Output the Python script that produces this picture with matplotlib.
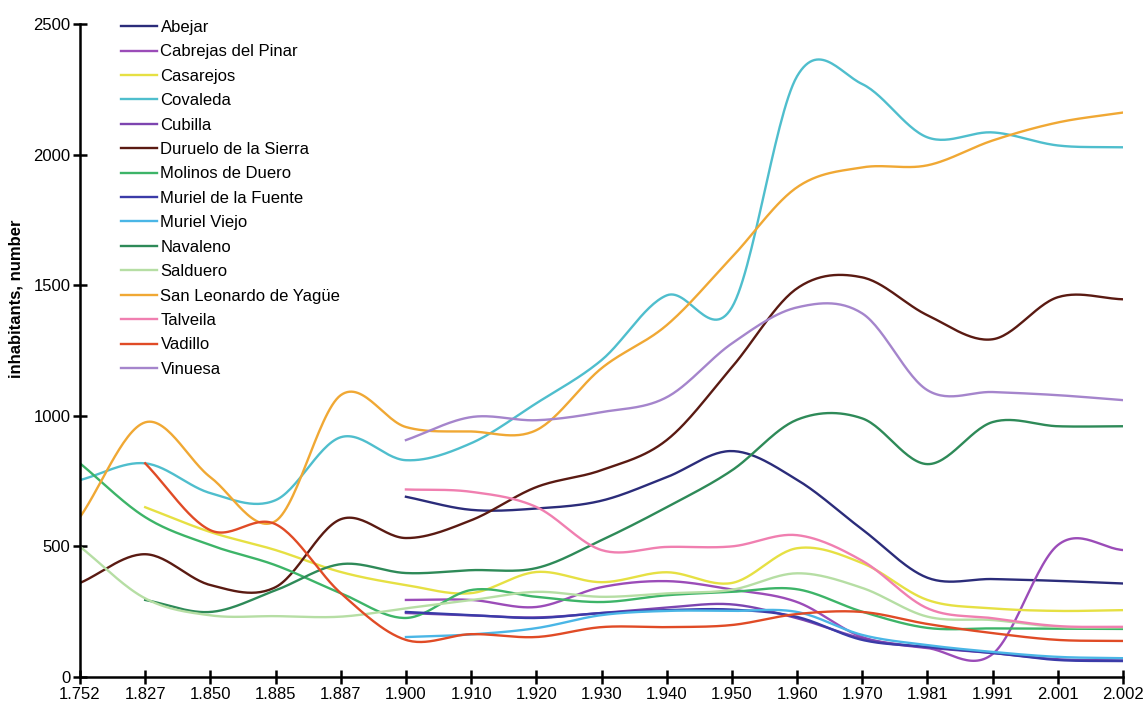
"""
inhabitants per municipality, smoothed lines over census years
"""

import numpy as np
import matplotlib
matplotlib.use('Agg')
import matplotlib.pyplot as plt

plt.rcParams['font.family'] = ['Liberation Sans', 'DejaVu Sans']

# census years (category labels, equally spaced)
years = ['1.752', '1.827', '1.850', '1.885', '1.887', '1.900', '1.910', '1.920', '1.930',
         '1.940', '1.950', '1.960', '1.970', '1.981', '1.991', '2.001', '2.002']

N = None
abejar = [N, N, N, N, N, 690, 640, 645, 675, 765, 865, 755, 565, 380, 375, 368, 358]
cabrejas = [N, N, N, N, N, 295, 295, 268, 344, 367, 335, 287, 153, 111, 88, 505, 486]
casarejos = [N, 650, 555, 486, 402, 352, 321, 402, 363, 401, 360, 493, 436, 295, 263, 253, 256]
covaleda = [754, 818, 704, 677, 918, 830, 895, 1048, 1213, 1461, 1415, 2300, 2270, 2066, 2085, 2035, 2028]
cubilla = [N, N, N, N, N, 245, 236, 228, 245, 266, 278, 225, 148, 113, 92, 68, 64]
duruelo = [360, 470, 352, 344, 604, 532, 600, 727, 792, 907, 1186, 1488, 1530, 1385, 1293, 1454, 1446]
molinos = [818, 612, 505, 428, 321, 226, 333, 307, 287, 313, 326, 336, 250, 188, 186, 185, 184]
muriel_fuente = [N, N, N, N, N, 249, 237, 226, 245, 256, 258, 230, 142, 115, 92, 65, 61]
muriel_viejo = [N, N, N, N, N, 153, 163, 187, 237, 253, 253, 249, 161, 122, 96, 77, 72]
navaleno = [N, 295, 249, 332, 432, 398, 409, 417, 524, 650, 791, 985, 990, 815, 976, 960, 960]
salduero = [499, 301, 236, 233, 231, 263, 294, 326, 307, 320, 334, 397, 341, 231, 218, 192, 190]
san_leonardo = [612, 975, 765, 597, 1079, 957, 940, 945, 1182, 1347, 1607, 1875, 1951, 1959, 2054, 2123, 2161]
talveila = [N, N, N, N, N, 718, 709, 651, 486, 498, 500, 543, 445, 263, 225, 195, 192]
vadillo = [N, 818, 562, 585, 321, 142, 164, 153, 191, 191, 199, 241, 249, 203, 168, 142, 138]
vinuesa = [N, N, N, N, N, 907, 995, 983, 1014, 1071, 1277, 1415, 1392, 1098, 1091, 1079, 1060]

series = [
    ('Abejar', abejar, '#2b2c7a'),
    ('Cabrejas del Pinar', cabrejas, '#9b4cb8'),
    ('Casarejos', casarejos, '#e6e043'),
    ('Covaleda', covaleda, '#4fbecd'),
    ('Cubilla', cubilla, '#7d45b0'),
    ('Duruelo de la Sierra', duruelo, '#5a1a12'),
    ('Molinos de Duero', molinos, '#3db468'),
    ('Muriel de la Fuente', muriel_fuente, '#3b3ba8'),
    ('Muriel Viejo', muriel_viejo, '#4ab6e6'),
    ('Navaleno', navaleno, '#2e8a58'),
    ('Salduero', salduero, '#b6dea4'),
    ('San Leonardo de Yagüe', san_leonardo, '#f0a834'),
    ('Talveila', talveila, '#f07fb0'),
    ('Vadillo', vadillo, '#e04b26'),
    ('Vinuesa', vinuesa, '#a585cc'),
]


def smooth(xs, ys, n=30):
    # catmull-rom style cubic hermite through the points
    xs = np.asarray(xs, float)
    ys = np.asarray(ys, float)
    m = np.zeros_like(ys)
    m[1:-1] = (ys[2:] - ys[:-2]) / 2
    m[0] = ys[1] - ys[0]
    m[-1] = ys[-1] - ys[-2]
    out_x, out_y = [], []
    for i in range(len(xs) - 1):
        t = np.linspace(0, 1, n, endpoint=(i == len(xs) - 2))
        h00 = 2*t**3 - 3*t**2 + 1
        h10 = t**3 - 2*t**2 + t
        h01 = -2*t**3 + 3*t**2
        h11 = t**3 - t**2
        out_x.append(xs[i] + t*(xs[i+1] - xs[i]))
        out_y.append(h00*ys[i] + h10*m[i] + h01*ys[i+1] + h11*m[i+1])
    return np.concatenate(out_x), np.concatenate(out_y)


fig = plt.figure(figsize=(11.47, 7.10), dpi=100)
ax = fig.add_axes([80/1147, 33/710, (1123-80)/1147, (677-24)/710])

pos = np.arange(len(years))
for name, vals, col in series:
    px = [p for p, v in zip(pos, vals) if v is not None]
    py = [v for v in vals if v is not None]
    sx, sy = smooth(px, py)
    ax.plot(sx, sy, color=col, lw=1.7, label=name)

ax.set_xlim(0, len(years) - 1)
ax.set_ylim(0, 2500)
ax.set_xticks(pos)
ax.set_xticklabels(years)
ax.set_yticks([0, 500, 1000, 1500, 2000, 2500])
ax.spines['top'].set_visible(False)
ax.spines['right'].set_visible(False)
for s in ['left', 'bottom']:
    ax.spines[s].set_linewidth(1.8)
    ax.spines[s].set_clip_on(False)
ax.tick_params(direction='inout', length=10, width=1.8, labelsize=12, pad=2)
ax.minorticks_off()
ax.set_ylabel('inhabitants, number', fontsize=12, fontweight='bold')
ax.yaxis.set_label_coords(-0.054, 0.58)

leg = ax.legend(loc='upper left', bbox_to_anchor=(121/1147, 1 - 20/710), bbox_transform=fig.transFigure,
                frameon=False, fontsize=12, handlelength=2.15, handletextpad=0.22,
                labelspacing=0.565, borderaxespad=0, borderpad=0)

plt.savefig('out.png', dpi=100)
